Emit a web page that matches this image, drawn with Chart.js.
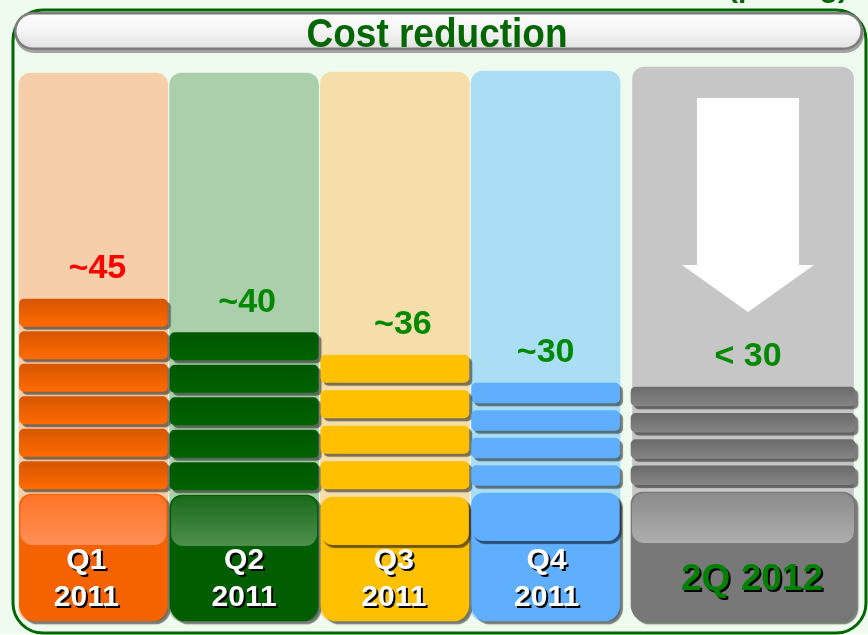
<!DOCTYPE html>
<html><head><meta charset="utf-8">
<script src="https://cdn.jsdelivr.net/npm/chart.js@4.4.1/dist/chart.umd.min.js"></script>
<style>html,body{margin:0;padding:0;background:#F0FBF0;overflow:hidden}</style>
</head><body>
<canvas id="c" width="868" height="635"></canvas>
<script>
// ---------- data ----------
const periods = ['Q1 2011', 'Q2 2011', 'Q3 2011', 'Q4 2011', '2Q 2012'];
const tileLines = [['Q1', '2011'], ['Q2', '2011'], ['Q3', '2011'], ['Q4', '2011'], ['2Q 2012']];
const costLabels = ['~45', '~40', '~36', '~30', '< 30'];
const backdropHeight = [548, 548, 549, 550, 554];
const tileHeight = [127, 126, 124, 128, 129];
const blockCount = [6, 5, 4, 4, 4];
const blockHeight = [27.5, 27.5, 27.5, 20, 19];
const blockGap = [5, 5, 8, 7.5, 7.25];
const yMax = 554;

// ---------- styles ----------
const backdropColor = ['#F6CEAA', '#AACFAA', '#F5DEAA', '#AADEF5', '#C6C6C6'];
const blockTop = ['#D65600', '#005600', '#FFC000', '#60AFFF', '#6A6A6A'];
const blockBottom = ['#FF6A00', '#006200', '#FFC000', '#60AFFF', '#858585'];
const tileColor = ['#F56300', '#005E00', '#FFC000', '#60AFFF', '#787878'];
const glossTop = ['#FF7428', '#1B6A1B', null, null, '#8B8B8B'];
const glossBottom = ['#FF8E55', '#4C8F4C', null, null, '#ADADAD'];
const labelColor = ['#FF0000', '#008800', '#008800', '#008800', '#008800'];
const tileTextColor = ['#FFFFFF', '#FFFFFF', '#FFFFFF', '#FFFFFF', '#008000'];
const labelDx = [4, 3, 8, 0, 5];
const tileTextDx = [-7, 0, -1, 1, 9];
const SHADOW = 'rgba(0,0,0,0.5)';

const groups = [
  { axis: 'xq', cols: [0, 1, 2, 3], bar: 148, bg: 149, span: 603, align: 'left' },
  { axis: 'xn', cols: [4], bar: 224, bg: 221, span: 224, align: 'right' }
];

function buildDatasets(g) {
  const cols = g.cols;
  const pick = arr => cols.map(i => arr[i]);
  const common = { xAxisID: g.axis, yAxisID: 'y', grouped: false, clip: false,
    borderSkipped: false, borderWidth: 0, stack: 'main', cols: cols, barThickness: g.bar };
  const out = [];
  out.push(Object.assign({}, common, {
    label: 'tile', role: 'tile', shadow: true, data: pick(tileHeight),
    backgroundColor: pick(tileColor),
    borderRadius: { topLeft: 12, topRight: 12, bottomLeft: 16, bottomRight: 16 }
  }));
  const maxLayers = Math.max(...pick(blockCount));
  for (let L = 0; L < maxLayers; L++) {
    out.push(Object.assign({}, common, {
      label: 'gap ' + (L + 1), role: 'gap',
      data: cols.map(i => L < blockCount[i] ? blockGap[i] : null),
      backgroundColor: 'rgba(0,0,0,0)'
    }));
    out.push(Object.assign({}, common, {
      label: 'block ' + (L + 1), role: 'block', layer: L, shadow: true,
      data: cols.map(i => L < blockCount[i] ? blockHeight[i] : null),
      borderRadius: { topLeft: 5, topRight: 5, bottomLeft: 5, bottomRight: 5 },
      backgroundColor: (c) => {
        const i = cols[c.dataIndex];
        if (i === undefined) return '#888';
        const y = c.chart.scales.y;
        if (!y) return blockTop[i];
        const start = tileHeight[i] + L * (blockGap[i] + blockHeight[i]) + blockGap[i];
        const pTop = y.getPixelForValue(start + blockHeight[i]);
        const pBot = y.getPixelForValue(start);
        if (!isFinite(pTop) || !isFinite(pBot) || pTop === pBot) return blockTop[i];
        const gr = c.chart.ctx.createLinearGradient(0, pTop, 0, pBot);
        gr.addColorStop(0, blockTop[i]);
        gr.addColorStop(1, blockBottom[i]);
        return gr;
      }
    }));
  }
  out.push(Object.assign({}, common, {
    label: 'backdrop', role: 'backdrop', stack: 'backdrop', order: 1,
    barThickness: g.bg, data: pick(backdropHeight),
    backgroundColor: pick(backdropColor), borderRadius: 12
  }));
  return out;
}
const datasets = groups.flatMap(buildDatasets);

function rr(c, x, y, w, h, r) {
  const t = typeof r === 'number' ? { tl: r, tr: r, bl: r, br: r } : r;
  c.beginPath();
  c.moveTo(x + t.tl, y);
  c.lineTo(x + w - t.tr, y);
  c.arcTo(x + w, y, x + w, y + t.tr, t.tr);
  c.lineTo(x + w, y + h - t.br);
  c.arcTo(x + w, y + h, x + w - t.br, y + h, t.br);
  c.lineTo(x + t.bl, y + h);
  c.arcTo(x, y + h, x, y + h - t.bl, t.bl);
  c.lineTo(x, y + t.tl);
  c.arcTo(x, y, x + t.tl, y, t.tl);
  c.closePath();
}

// place the two category axes side by side inside the chart area
const splitAxes = {
  id: 'splitAxes',
  afterLayout(chart) {
    const a = chart.chartArea;
    groups.forEach(g => {
      const s = chart.scales[g.axis];
      if (g.align === 'left') { s.left = a.left; s.right = a.left + g.span; }
      else { s.left = a.right - g.span; s.right = a.right; }
      s.width = g.span;
      s.configure();
    });
  }
};

const shadows = {
  id: 'shadows',
  beforeDatasetDraw(chart, args) {
    const ds = chart.data.datasets[args.index];
    if (ds.shadow) {
      const c = chart.ctx;
      c.save();
      c.shadowColor = SHADOW; c.shadowOffsetX = 3; c.shadowOffsetY = 3; c.shadowBlur = 1;
    }
  },
  afterDatasetDraw(chart, args) {
    const ds = chart.data.datasets[args.index];
    if (ds.shadow) chart.ctx.restore();
  }
};

const frame = {
  id: 'frame',
  beforeDraw(chart) {
    const c = chart.ctx;
    c.save();
    c.fillStyle = '#F0FBF0';
    c.fillRect(0, 0, chart.width, chart.height);
    c.fillStyle = '#FFFFFF';
    c.fillRect(0, 634, chart.width, 1);
    c.fillStyle = '#006600';
    c.font = 'bold 30px "Liberation Sans", Arial, sans-serif';
    c.textAlign = 'right'; c.textBaseline = 'alphabetic';
    c.fillText('(pricing)', 848, -3);
    c.strokeStyle = '#006600'; c.lineWidth = 3;
    rr(c, 13, 10, 853, 623, 30);
    c.stroke();
    c.restore();
  }
};

function elementsOf(chart, role) {
  const res = {};
  chart.data.datasets.forEach((ds, di) => {
    if (ds.role !== role) return;
    const meta = chart.getDatasetMeta(di);
    meta.data.forEach((el, k) => {
      if (ds.data[k] === null || ds.data[k] === undefined) return;
      const i = ds.cols[k];
      const p = el.getProps(['x', 'y', 'base', 'width'], true);
      if (!res[i] || p.y < res[i].y) res[i] = p;
    });
  });
  return res;
}

const decorations = {
  id: 'decorations',
  afterDatasetsDraw(chart) {
    const c = chart.ctx;
    const tiles = elementsOf(chart, 'tile');
    const tops = elementsOf(chart, 'block');
    const backs = elementsOf(chart, 'backdrop');

    // down arrow in the target column
    const b = backs[4];
    if (b) {
      const cx = b.x + 5, t = b.y;
      c.save();
      c.fillStyle = '#FFFFFF';
      c.beginPath();
      c.moveTo(cx - 51, t + 31);
      c.lineTo(cx + 51, t + 31);
      c.lineTo(cx + 51, t + 198);
      c.lineTo(cx + 66, t + 198);
      c.lineTo(cx, t + 245);
      c.lineTo(cx - 66, t + 198);
      c.lineTo(cx - 51, t + 198);
      c.closePath();
      c.fill();
      c.restore();
    }

    // glossy caps on the tiles
    Object.keys(tiles).forEach(k => {
      const i = +k, p = tiles[i];
      const L = p.x - p.width / 2, W = p.width, T = p.y;
      c.save();
      if (glossTop[i]) {
        const gr = c.createLinearGradient(0, T + 1, 0, T + 50);
        gr.addColorStop(0, glossTop[i]);
        gr.addColorStop(1, glossBottom[i]);
        c.fillStyle = gr;
        rr(c, L + 1, T + 1, W - 2, 50, 12);
        c.fill();
      } else {
        c.shadowColor = 'rgba(0,0,0,0.55)'; c.shadowOffsetX = 2; c.shadowOffsetY = 3; c.shadowBlur = 1;
        c.fillStyle = tileColor[i];
        rr(c, L, T, W, 48, 12);
        c.fill();
      }
      c.restore();
      // tile text
      c.save();
      c.textAlign = 'center'; c.textBaseline = 'alphabetic';
      c.shadowColor = '#000000'; c.shadowOffsetX = 2; c.shadowOffsetY = 2; c.shadowBlur = 0;
      c.fillStyle = tileTextColor[i];
      const lines = tileLines[i];
      if (lines.length === 2) {
        c.font = 'bold 30px "Liberation Sans", Arial, sans-serif';
        c.fillText(lines[0], p.x + tileTextDx[i], p.base - 52);
        c.fillText(lines[1], p.x + tileTextDx[i], p.base - 15);
      } else {
        c.font = 'bold 37px "Liberation Sans", Arial, sans-serif';
        c.fillText(lines[0], p.x + tileTextDx[i], p.base - 31);
      }
      c.restore();
    });

    // value labels above each stack
    Object.keys(tops).forEach(k => {
      const i = +k, p = tops[i];
      c.save();
      c.textAlign = 'center'; c.textBaseline = 'alphabetic';
      c.font = 'bold 34px "Liberation Sans", Arial, sans-serif';
      c.fillStyle = labelColor[i];
      c.fillText(costLabels[i], p.x + labelDx[i], p.y - 21);
      c.restore();
    });
  },
  afterDraw(chart) {
    const c = chart.ctx;
    const x0 = 14, y0 = 12, w = 849, h = 38, r = 19;
    c.save();
    c.fillStyle = '#A3A3A3';
    rr(c, x0 + 1, y0 + 3, w, h, r); c.fill();
    c.fillStyle = '#7C7C7C';
    rr(c, x0, y0, w, h, r); c.fill();
    const gr = c.createLinearGradient(0, y0 + 2, 0, y0 + h - 2);
    gr.addColorStop(0, '#FDFDFD');
    gr.addColorStop(0.5, '#F4F4F4');
    gr.addColorStop(1, '#E2E2E2');
    c.fillStyle = gr;
    rr(c, x0 + 2.5, y0 + 2.5, w - 5, h - 5, r - 2.5); c.fill();
    // title fitted to width
    const title = 'Cost reduction';
    c.font = 'bold 41px "Liberation Sans", Arial, sans-serif';
    const mw = c.measureText(title).width;
    const target = 261;
    c.translate(437, 47);
    c.scale(target / mw, 1);
    c.textAlign = 'center'; c.textBaseline = 'alphabetic';
    c.fillStyle = '#006600';
    c.fillText(title, 0, 0);
    c.restore();
  }
};

new Chart(document.getElementById('c'), {
  type: 'bar',
  data: { labels: periods, datasets: datasets },
  options: {
    responsive: false,
    animation: false,
    events: [],
    layout: { padding: { left: 18, right: 13, top: 67, bottom: 14 } },
    plugins: { legend: { display: false }, tooltip: { enabled: false }, title: { display: false } },
    scales: {
      xq: { type: 'category', labels: periods.slice(0, 4), display: false, offset: true },
      xn: { type: 'category', labels: periods.slice(4), display: false, offset: true },
      y: { type: 'linear', min: 0, max: yMax, stacked: true, display: false }
    }
  },
  plugins: [frame, splitAxes, shadows, decorations]
});
</script>
</body></html>
